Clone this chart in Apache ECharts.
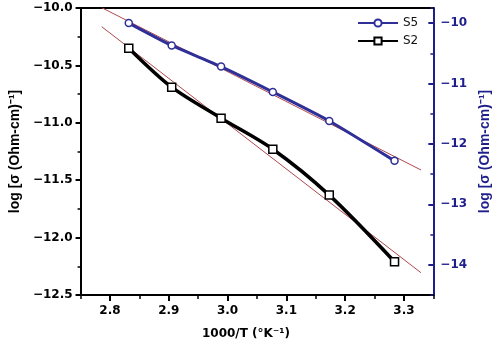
<!DOCTYPE html>
<html>
<head>
<meta charset="utf-8">
<script src="https://cdn.jsdelivr.net/npm/echarts@6/dist/echarts.min.js"></script>
<style>
  html, body { margin: 0; padding: 0; background: #fff; }
  #chart { width: 500px; height: 346px; }
</style>
</head>
<body>
<div id="chart"></div>
<script>
// Inverse temperature, 1000/T (K^-1)
const invTemp = [2.832, 2.905, 2.989, 3.077, 3.173, 3.284];
// log conductivity of the two samples
const s5LogSigma = [-10.00, -10.37, -10.72, -11.14, -11.62, -12.28];
const s2LogSigma = [-10.35, -10.69, -10.96, -11.23, -11.63, -12.21];
// Linear (Arrhenius) fits: end points
const fitX = [2.786, 3.329];
const fitS5 = [-9.745, -12.431];
const fitS2 = [-10.163, -12.306];
// Axis ticks
const xMajorTicks = [2.8, 2.9, 3.0, 3.1, 3.2, 3.3];
const rightMajorTicks = [-14, -13, -12, -11, -10];

const NAVY = '#1f1f8c';
const S5_BLUE = '#2f2f98';
const FIT_RED = '#b0474f';
const minus = s => String(s).replace('-', '\u2212');
const pairs = (xs, ys) => xs.map((x, i) => [x, ys[i]]);

const tickFont = { fontFamily: 'DejaVu Sans', fontWeight: 'bold', fontSize: 12 };
const nameFont = { fontFamily: 'Liberation Sans', fontWeight: 'bold', fontSize: 14 };

const chart = echarts.init(document.getElementById('chart'), null, { renderer: 'canvas' });
chart.setOption({
  animation: false,
  backgroundColor: '#fff',
  grid: { left: 79, right: 58, top: 8, bottom: 51, containLabel: false },
  legend: {
    orient: 'vertical',
    left: 357, top: 17,
    itemWidth: 40, itemHeight: 9, itemGap: 6,
    padding: 0,
    textStyle: { fontFamily: 'DejaVu Sans', fontSize: 12, color: '#111' },
    data: ['S5', 'S2']
  },
  xAxis: [
    {
      type: 'value', position: 'bottom', min: 2.75, max: 3.35,
      name: '1000/T (°K⁻¹)', nameLocation: 'middle', nameGap: 33,
      nameTextStyle: Object.assign({ color: '#000', fontFamily: 'DejaVu Sans', fontWeight: 'bold', fontSize: 12, padding: [0, 22, 0, 0] }),
      axisLine: { show: true, lineStyle: { color: '#000', width: 2 } },
      axisTick: { show: true, inside: false, length: 6, lineStyle: { width: 2, color: '#000' }, customValues: xMajorTicks },
      axisLabel: Object.assign({ color: '#000', margin: 10, customValues: xMajorTicks, formatter: v => v.toFixed(1) }, tickFont),
      splitLine: { show: false }
    },
    {
      type: 'value', position: 'top', min: 2.75, max: 3.35,
      axisLine: { show: true, lineStyle: { color: '#000', width: 2 } },
      axisTick: { show: false }, axisLabel: { show: false }, splitLine: { show: false }
    },
    {
      type: 'value', position: 'bottom', min: 2.75, max: 3.35, interval: 0.05,
      axisLine: { show: false },
      axisTick: { show: true, inside: false, length: 4, lineStyle: { width: 1.5, color: '#000' } },
      axisLabel: { show: false }, splitLine: { show: false }
    }
  ],
  yAxis: [
    {
      type: 'value', position: 'left', min: -12.5, max: -10, interval: 0.5,
      name: 'log [σ (Ohm-cm)⁻¹]', nameLocation: 'middle', nameGap: 58,
      nameTextStyle: Object.assign({ color: '#000' }, nameFont),
      axisLine: { show: true, lineStyle: { color: '#000', width: 2 } },
      axisTick: { show: true, inside: false, length: 5, lineStyle: { width: 2, color: '#000' } },
      minorTick: { show: true, splitNumber: 2, length: 3, lineStyle: { width: 1.5, color: '#000' } },
      axisLabel: Object.assign({ color: '#000', margin: 8, formatter: v => minus(v.toFixed(1)) }, tickFont),
      splitLine: { show: false }
    },
    {
      type: 'value', position: 'right', min: -14.5, max: -9.75,
      name: 'log [σ (Ohm-cm)⁻¹]', nameLocation: 'middle', nameGap: 43,
      nameTextStyle: Object.assign({ color: NAVY }, nameFont),
      axisLine: { show: true, lineStyle: { color: NAVY, width: 2 } },
      axisTick: { show: true, inside: true, length: 5, lineStyle: { width: 2, color: NAVY }, customValues: rightMajorTicks },
      axisLabel: Object.assign({ color: NAVY, margin: 7, customValues: rightMajorTicks, formatter: v => minus(Math.round(v)) }, tickFont),
      splitLine: { show: false }
    },
    {
      type: 'value', position: 'right', min: -14.5, max: -9.75, interval: 0.5,
      axisLine: { show: false },
      axisTick: { show: true, inside: true, length: 3, lineStyle: { width: 1.5, color: NAVY } },
      axisLabel: { show: false }, splitLine: { show: false }
    }
  ],
  series: [
    {
      name: 'fitS2', type: 'line', xAxisIndex: 0, yAxisIndex: 0,
      data: pairs(fitX, fitS2), symbol: 'none', silent: true, z: 1,
      lineStyle: { color: FIT_RED, width: 1 }
    },
    {
      name: 'fitS5', type: 'line', xAxisIndex: 0, yAxisIndex: 1,
      data: pairs(fitX, fitS5), symbol: 'none', silent: true, z: 1,
      lineStyle: { color: FIT_RED, width: 1 }
    },
    {
      name: 'S5', type: 'line', xAxisIndex: 0, yAxisIndex: 1,
      data: pairs(invTemp, s5LogSigma), smooth: 0.2, z: 3,
      symbol: 'circle', symbolSize: 7, showAllSymbol: true,
      lineStyle: { color: S5_BLUE, width: 3 },
      itemStyle: { color: '#fff', borderColor: S5_BLUE, borderWidth: 1.5 }
    },
    {
      name: 'S2', type: 'line', xAxisIndex: 0, yAxisIndex: 0,
      data: pairs(invTemp, s2LogSigma), smooth: 0.3, z: 3,
      symbol: 'rect', symbolSize: 8, showAllSymbol: true,
      lineStyle: { color: '#000', width: 3.5 },
      itemStyle: { color: '#fff', borderColor: '#000', borderWidth: 1.5 }
    }
  ]
});
</script>
</body>
</html>
